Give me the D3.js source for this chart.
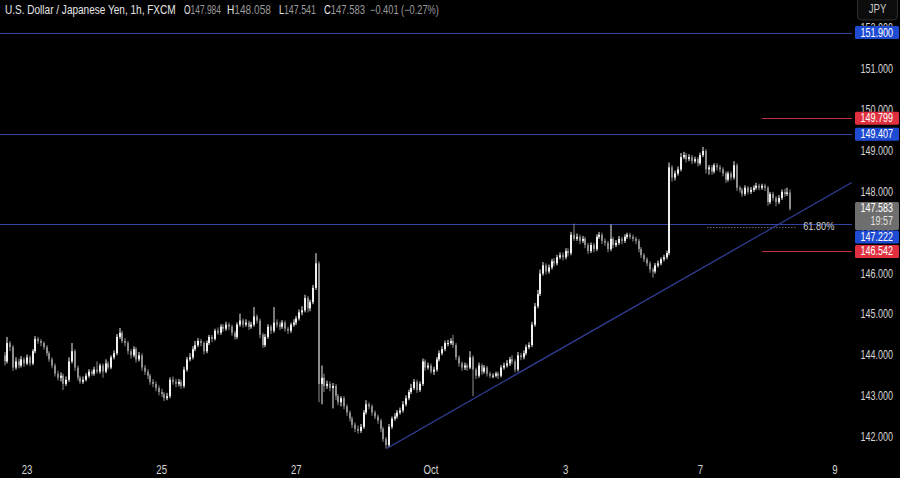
<!DOCTYPE html>
<html><head><meta charset="utf-8">
<script src="https://cdn.jsdelivr.net/npm/d3@7"></script>
<style>
html,body{margin:0;padding:0;background:#000;}
svg{display:block;}
text{font-family:"Liberation Sans",Arial,sans-serif;}
</style></head>
<body>
<svg id="chart" width="900" height="478"></svg>
<script>
// ---------- DATA ----------
const symbolTitle = "U.S. Dollar / Japanese Yen, 1h, FXCM";
const currency = "JPY";
const countdown = "19:57";
const firstOpen = 144.0;
const closes = [
143.85,144.3,144.2,143.7,143.85,143.75,143.9,143.8,143.95,143.8,
144.1,144.4,144.35,144.3,144.2,144.05,143.9,143.75,143.55,143.45,
143.5,143.3,143.4,143.85,144.1,143.7,143.45,143.35,143.4,143.5,
143.6,143.55,143.65,143.6,143.75,143.6,143.8,143.7,143.95,144.05,
144.45,144.55,144.35,144.3,144.1,144.0,144.15,143.9,144.0,143.7,
143.6,143.5,143.35,143.3,143.2,143.1,143.05,142.95,143.0,143.4,
143.35,143.3,143.35,143.25,143.65,143.9,143.95,144.15,144.25,144.35,
144.3,144.1,144.3,144.45,144.4,144.6,144.55,144.7,144.65,144.75,
144.7,144.55,144.45,144.75,144.85,144.75,144.8,144.7,144.75,144.95,
144.85,144.5,144.25,144.45,144.7,144.6,144.8,144.75,144.7,144.8,
144.65,144.6,144.75,144.8,144.9,145.05,145.1,145.4,145.15,145.3,
145.65,146.25,143.3,143.45,143.25,143.3,143.2,143.25,143.0,142.85,
142.95,142.75,142.6,142.45,142.3,142.2,142.15,142.25,142.6,142.8,
142.75,142.6,142.5,142.4,142.2,141.95,141.8,142.25,142.45,142.5,
142.6,142.65,142.8,142.95,143.1,143.2,143.35,143.15,143.3,143.85,
143.7,143.75,143.6,143.65,143.9,144.05,144.15,144.3,144.3,144.35,
144.25,143.95,143.8,143.7,143.75,143.7,143.95,143.65,143.5,143.75,
143.6,143.7,143.55,143.5,143.5,143.55,143.5,143.7,143.75,143.8,
143.9,143.85,143.65,144.0,143.95,144.05,144.2,144.25,144.75,145.2,
145.5,146.0,146.2,146.05,146.15,146.3,146.25,146.4,146.45,146.4,
146.55,146.5,146.95,146.85,146.9,146.8,146.85,146.7,146.55,146.7,
146.6,146.9,146.95,146.8,146.75,146.6,146.85,146.7,146.75,146.85,
146.8,146.9,146.95,146.9,146.85,146.8,146.6,146.45,146.35,146.25,
146.1,146.05,146.2,146.25,146.35,146.4,146.5,148.6,148.35,148.45,
148.55,148.85,148.9,148.8,148.85,148.75,148.8,148.7,148.9,149.0,
148.55,148.6,148.5,148.65,148.6,148.55,148.45,148.3,148.45,148.35,
148.65,148.1,148.05,147.95,148.1,148.0,148.05,148.1,148.15,148.1,
148.15,148.1,147.75,147.95,147.85,147.75,147.85,148.0,147.95,147.984,
147.583];
const highs = [
144.08,144.45,144.35,144.25,143.95,143.92,143.98,143.95,144.02,144.0,
144.15,144.47,144.45,144.4,144.34,144.25,144.1,143.95,143.8,143.62,
143.58,143.55,143.48,143.95,144.3,144.15,143.75,143.5,143.48,143.56,
143.66,143.65,143.72,143.85,143.8,143.8,143.9,143.85,144.0,144.12,
144.52,144.67,144.6,144.42,144.35,144.15,144.22,144.2,144.08,144.05,
143.76,143.66,143.55,143.42,143.36,143.26,143.18,143.1,143.08,143.46,
143.48,143.42,143.42,143.4,143.72,143.96,144.05,144.22,144.35,144.42,
144.4,144.34,144.36,144.5,144.5,144.65,144.68,144.76,144.76,144.82,
144.8,144.75,144.6,144.8,145.02,144.9,144.88,144.85,144.82,145.18,
145.0,144.9,144.55,144.52,144.76,144.75,145.18,144.88,144.82,144.86,
144.85,144.7,144.8,144.88,144.96,145.12,145.2,145.48,145.45,145.36,
145.72,146.5,146.3,143.75,143.55,143.38,143.36,143.32,143.3,143.05,
143.0,143.0,142.8,142.65,142.5,142.36,142.28,142.32,142.66,142.9,
142.85,142.8,142.65,142.55,142.45,142.25,142.0,142.32,142.5,142.58,
142.66,142.72,142.88,143.02,143.16,143.3,143.42,143.4,143.36,143.92,
143.9,143.82,143.8,143.72,143.96,144.12,144.22,144.36,144.38,144.42,
144.5,144.3,144.0,143.85,143.82,143.8,144.1,144.0,143.7,143.82,
143.8,143.76,143.74,143.6,143.56,143.6,143.6,143.76,143.82,143.88,
143.96,144.0,143.9,144.08,144.06,144.12,144.26,144.32,144.82,145.28,
145.6,146.1,146.28,146.25,146.22,146.36,146.38,146.46,146.52,146.52,
146.62,146.62,147.02,147.22,146.98,146.95,146.92,146.9,146.75,146.76,
146.75,146.96,147.02,147.0,146.86,146.8,147.2,146.9,146.82,146.92,
146.9,146.96,147.0,147.0,146.95,146.9,146.85,146.65,146.5,146.4,
146.3,146.15,146.26,146.32,146.4,146.46,146.56,148.72,148.65,148.52,
148.62,148.95,148.98,148.95,148.92,148.9,148.86,148.85,148.96,149.1,
149.05,148.66,148.66,148.7,148.7,148.66,148.6,148.5,148.5,148.5,
148.75,148.7,148.15,148.1,148.16,148.14,148.12,148.16,148.22,148.2,
148.2,148.2,148.14,148.0,148.0,147.9,147.92,148.06,148.08,148.1,
148.058];
const lows = [
143.75,143.8,144.1,143.62,143.65,143.68,143.7,143.72,143.76,143.74,
143.76,144.05,144.28,144.22,144.14,143.98,143.84,143.68,143.48,143.38,
143.36,143.15,143.25,143.35,143.8,143.62,143.38,143.3,143.3,143.36,
143.45,143.5,143.5,143.55,143.55,143.45,143.56,143.65,143.66,143.9,
144.0,144.4,144.3,144.22,144.02,143.92,143.95,143.82,143.85,143.62,
143.52,143.42,143.28,143.22,143.12,143.02,142.98,142.88,142.9,142.95,
143.28,143.22,143.24,143.18,143.2,143.6,143.85,143.9,144.1,144.2,
144.22,144.02,144.05,144.25,144.32,144.36,144.5,144.5,144.58,144.6,
144.62,144.48,144.38,144.4,144.7,144.68,144.7,144.62,144.65,144.7,
144.78,144.42,144.18,144.2,144.4,144.52,144.55,144.68,144.62,144.65,
144.58,144.52,144.55,144.7,144.74,144.85,144.98,145.05,145.05,145.08,
145.25,145.6,142.85,142.8,143.1,143.18,143.12,142.7,142.9,142.78,
142.75,142.68,142.52,142.38,142.22,142.12,142.08,142.1,142.2,142.55,
142.68,142.52,142.44,142.32,142.12,141.88,141.72,141.76,142.2,142.4,
142.45,142.55,142.6,142.75,142.9,143.05,143.15,143.08,143.1,143.25,
143.62,143.65,143.55,143.52,143.6,143.85,144.0,144.1,144.22,144.26,
144.18,143.88,143.72,143.62,143.64,143.62,143.66,143.0,143.42,143.45,
143.52,143.55,143.48,143.44,143.44,143.46,143.42,143.46,143.65,143.7,
143.74,143.78,143.58,143.6,143.88,143.9,144.0,144.15,144.2,144.7,
145.15,145.45,145.95,145.98,146.0,146.1,146.18,146.2,146.35,146.32,
146.35,146.42,146.45,146.8,146.8,146.72,146.75,146.62,146.48,146.5,
146.52,146.55,146.85,146.72,146.68,146.52,146.55,146.62,146.65,146.7,
146.72,146.75,146.85,146.84,146.78,146.72,146.52,146.38,146.28,146.18,
146.02,145.9,146.0,146.15,146.2,146.3,146.35,146.45,148.25,148.28,
148.4,148.5,148.8,148.72,148.75,148.68,148.7,148.62,148.65,148.85,
148.45,148.42,148.42,148.45,148.52,148.48,148.38,148.22,148.25,148.28,
148.3,148.02,147.98,147.88,147.9,147.94,147.95,148.0,148.05,148.04,
148.05,148.02,147.66,147.7,147.78,147.65,147.7,147.8,147.88,147.9,
147.541];

// time axis (bar index of each day label)
const tickBars   = [8, 56, 104, 152, 200, 248, 296];
const tickLabels = ["23", "25", "27", "Oct", "3", "7", "9"];
// price axis ticks
const priceTicks = [142, 143, 144, 145, 146, 147, 148, 149, 150, 151, 152];

// drawn levels
const blueLevels = [151.900, 149.407, 147.222];
const redLevels  = [149.799, 146.542];
const redStartBar = 270;
const fibLevel = 147.15, fibLabel = "61.80%", fibStartBar = 250.5, fibEndBar = 282.5;
const trendStart = {bar: 136.2, price: 141.72};
const trendEnd   = {bar: 302, price: 148.23};

// ---------- CHART ----------
const W = 900, H = 478, plotRight = 852;
const svg = d3.select("#chart");
svg.append("rect").attr("width", W).attr("height", H).attr("fill", "#000");

// text drawn in a horizontally condensed group (reference uses a narrow face)
function ntext(parent, px, py, k, anchor) {
  return parent.append("g").attr("transform", `translate(${px},${py}) scale(${k},1)`)
    .append("text").attr("x", 0).attr("y", 0).attr("text-anchor", anchor || "start");
}
// condense to a given width
function fitText(parent, px, py, width, build) {
  const g = parent.append("g").attr("transform", `translate(${px},${py})`);
  const t = g.append("text").attr("x", 0).attr("y", 0);
  build(t);
  const w = t.node().getComputedTextLength();
  g.attr("transform", `translate(${px},${py}) scale(${width / w},1)`);
  return t;
}

const x = d3.scaleLinear().domain([8, 296]).range([27, 835]);
const y = d3.scaleLinear().domain([142, 149]).range([437, 151]);

const n = closes.length;
const bars = closes.map((c, i) => ({
  i, o: i === 0 ? firstOpen : closes[i - 1], h: highs[i], l: lows[i], c
}));

svg.append("defs").append("clipPath").attr("id", "plot")
  .append("rect").attr("x", 0).attr("y", 0).attr("width", plotRight).attr("height", 455);
const plot = svg.append("g").attr("clip-path", "url(#plot)");

const blue = "#3343a0", red = "#c0303a";
plot.selectAll("line.blue").data(blueLevels).join("line")
  .attr("x1", 0).attr("x2", plotRight)
  .attr("y1", d => Math.round(y(d)) + 0.5).attr("y2", d => Math.round(y(d)) + 0.5)
  .attr("stroke", blue).attr("stroke-width", 1);
plot.selectAll("line.red").data(redLevels).join("line")
  .attr("x1", x(redStartBar)).attr("x2", plotRight)
  .attr("y1", d => Math.round(y(d)) + 0.5).attr("y2", d => Math.round(y(d)) + 0.5)
  .attr("stroke", red).attr("stroke-width", 1);
plot.append("line")
  .attr("x1", x(fibStartBar)).attr("x2", x(fibEndBar))
  .attr("y1", Math.round(y(fibLevel)) + 0.5).attr("y2", Math.round(y(fibLevel)) + 0.5)
  .attr("stroke", "#9a9a9a").attr("stroke-width", 1).attr("stroke-dasharray", "1,2");
ntext(plot, x(fibEndBar) + 6, y(fibLevel) + 3.5, 0.8)
  .attr("fill", "#d0d0d0").attr("font-size", 11.5).text(fibLabel);
plot.append("line")
  .attr("x1", x(trendStart.bar)).attr("y1", y(trendStart.price))
  .attr("x2", x(trendEnd.bar)).attr("y2", y(trendEnd.price))
  .attr("stroke", blue).attr("stroke-width", 1.2);

// candles
const upCol = "#f0f0f0", dnCol = "#8e8e8e";
const cg = plot.append("g");
cg.selectAll("rect.wick").data(bars).join("rect")
  .attr("x", d => Math.round(x(d.i)) - 0.5)
  .attr("y", d => y(d.h))
  .attr("width", 1)
  .attr("height", d => Math.max(1, y(d.l) - y(d.h)))
  .attr("fill", d => d.c >= d.o ? upCol : dnCol);
cg.selectAll("rect.body").data(bars).join("rect")
  .attr("x", d => Math.round(x(d.i)) - 1)
  .attr("y", d => y(Math.max(d.o, d.c)))
  .attr("width", 2)
  .attr("height", d => Math.max(1, Math.abs(y(d.o) - y(d.c))))
  .attr("fill", d => d.c >= d.o ? upCol : dnCol);

// time axis labels
tickBars.forEach((b, k) => ntext(svg, x(b), 474, 0.8, "middle")
  .attr("fill", "#d6d6d6").attr("font-size", 12).text(tickLabels[k]));

// price axis labels
priceTicks.forEach(p => ntext(svg, 893, y(p) + 4, 0.75, "end")
  .attr("fill", "#d6d6d6").attr("font-size", 12).text(p.toFixed(3)));

// price tags
function tag(fill, yc, lines) {
  const hgt = lines.length > 1 ? 28 : 13;
  const top = lines.length > 1 ? yc - 7 : yc - 6.5;
  svg.append("rect").attr("x", 855).attr("y", top).attr("width", 44).attr("height", hgt)
    .attr("rx", 1.5).attr("fill", fill);
  lines.forEach((t, k) => ntext(svg, 893, top + 10.5 + k * 13, 0.75, "end")
    .attr("fill", k === 0 ? "#ffffff" : "#e0e0e0").attr("font-size", 12).text(t));
  return top + hgt;
}
const last = bars[n - 1];
tag("#1e4bd2", y(blueLevels[0]), [blueLevels[0].toFixed(3)]);
tag("#e0303f", y(redLevels[0]), [redLevels[0].toFixed(3)]);
tag("#1e4bd2", y(blueLevels[1]), [blueLevels[1].toFixed(3)]);
const grayBottom = tag("#6e6e6e", y(last.c), [last.c.toFixed(3), countdown]);
tag("#1e4bd2", Math.max(y(blueLevels[2]), grayBottom + 7), [blueLevels[2].toFixed(3)]);
tag("#e0303f", y(redLevels[1]), [redLevels[1].toFixed(3)]);

// currency button
svg.append("rect").attr("x", 857.5).attr("y", -4).attr("width", 40).attr("height", 24)
  .attr("rx", 4).attr("fill", "#0c0c0c").attr("stroke", "#2e2e2e");
ntext(svg, 877.5, 13, 0.8, "middle").attr("fill", "#c8c8c8").attr("font-size", 12).text(currency);

// title line
const fmt = d3.format(".3f");
const chg = last.c - last.o;
fitText(svg, 5, 14, 171, t => t.attr("font-size", 12).attr("fill", "#e6e6e6").text(symbolTitle));
[["O", last.o, 184, 37], ["H", last.h, 227, 44], ["L", last.l, 279, 37], ["C", last.c, 324, 41]]
  .forEach(([k, v, px, w]) => fitText(svg, px, 14, w, t => {
    t.attr("font-size", 12);
    t.append("tspan").attr("fill", "#e6e6e6").text(k);
    t.append("tspan").attr("fill", "#9a9a9a").text(fmt(v));
  }));
fitText(svg, 370, 14, 69, t => t.attr("font-size", 12).attr("fill", "#9a9a9a")
  .text(fmt(chg).replace("-", "\u2212") + " (" + d3.format(".2%")(chg / last.o).replace("-", "\u2212") + ")"));
</script>
</body></html>
